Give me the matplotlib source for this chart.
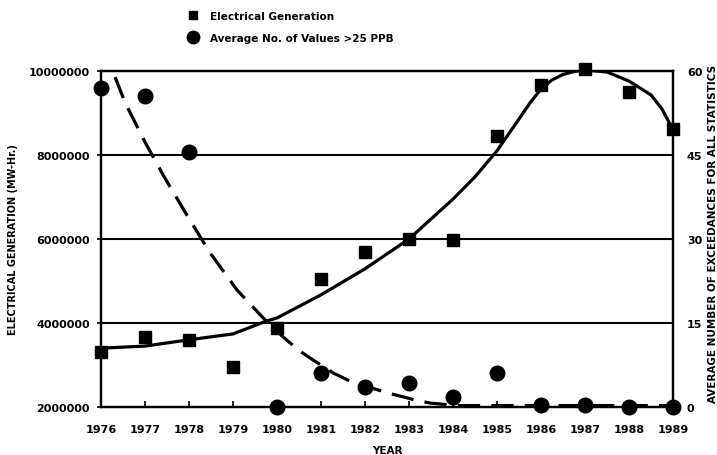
import numpy as np
import matplotlib
matplotlib.use("Agg")
import matplotlib.pyplot as plt
from matplotlib.lines import Line2D

# observed values
years = [1976, 1977, 1978, 1979, 1980, 1981, 1982, 1983, 1984, 1985, 1986, 1987, 1988, 1989]
generation = [3310000, 3670000, 3600000, 2950000, 3880000, 5050000, 5690000,
              6000000, 5980000, 8450000, 9670000, 10050000, 9500000, 8620000]
exceedances = [57, 55.5, 45.5, np.nan, 0, 6.1, 3.6, 4.3, 1.8, 6, 0.4, 0.4, 0, 0]

# hand drawn trend lines
gen_trend_x = [1976, 1977, 1978, 1979, 1979.77, 1980, 1981, 1982, 1983, 1984,
               1984.5, 1985, 1985.5, 1985.75, 1986, 1986.25, 1986.5, 1986.75,
               1987, 1987.5, 1988, 1988.5, 1988.75, 1989]
gen_trend_y = [3400000, 3450000, 3600000, 3740000, 4050000, 4120000, 4670000,
               5290000, 6000000, 6950000, 7480000, 8100000, 8857000, 9238000,
               9571000, 9786000, 9917000, 9988000, 10024000, 9976000, 9760000,
               9430000, 9095000, 8600000]
exc_trend_x = [1976.32, 1976.55, 1977, 1977.45, 1977.98, 1978.48, 1979.09,
               1979.77, 1980.14, 1980.48, 1980.75, 1981.27, 1981.61, 1982.23,
               1982.52, 1983.14, 1983.48, 1984.11, 1985, 1986, 1987, 1988, 1989]
exc_trend_y = [58.9, 54.3, 47.3, 40.9, 33.9, 27.5, 20.9, 15.2, 12.5, 10.2, 8.75,
               6.1, 4.8, 3.2, 2.5, 1.25, 0.7, 0.25, 0.25, 0.25, 0.25, 0.25, 0.25]

left_ticks = [2000000, 4000000, 6000000, 8000000, 10000000]
left_labels = ['2000000', '4000000', '6000000', '8000000', '10000000']
right_ticks = [0, 15, 30, 45, 60]

font = {'family': 'DejaVu Sans', 'weight': 'bold'}

fig = plt.figure(figsize=(7.17, 4.56), dpi=100)
ax = fig.add_axes([0.1409, 0.1053, 0.7977, 0.7368])
ax2 = ax.twinx()

ax.set_xlim(1976, 1989)
ax.set_ylim(2000000, 10000000)
ax2.set_ylim(0, 60)

for y in [4000000, 6000000, 8000000]:
    ax.axhline(y, color='black', lw=1.5, zorder=1)

ax.plot(gen_trend_x, gen_trend_y, color='black', lw=2.3, zorder=3)
ax.plot(years, generation, 's', color='black', ms=8, clip_on=False, zorder=4)

dash, = ax2.plot(exc_trend_x, exc_trend_y, color='black', lw=2.3, zorder=3)
dash.set_dashes((7, 3.5))
ax2.plot(years, exceedances, 'o', color='black', ms=10.5, clip_on=False, zorder=4)

for a in (ax, ax2):
    for s in a.spines.values():
        s.set_linewidth(1.6)

ax.set_xticks(years)
ax.set_xticklabels([str(y) for y in years], fontsize=8, **font)
ax.tick_params(axis='x', direction='in', length=4, width=1.2, pad=12)
ax.set_yticks(left_ticks)
ax.set_yticklabels(left_labels, fontsize=8, **font)
ax.tick_params(axis='y', direction='out', length=3, width=1.2, pad=5)
ax2.set_yticks(right_ticks)
ax2.set_yticklabels([str(t) for t in right_ticks], fontsize=8, **font)
ax2.tick_params(axis='y', length=0, pad=10)

fig.text(0.0181, 0.474, 'ELECTRICAL GENERATION (MW-Hr.)', rotation=90,
         ha='center', va='center', fontsize=7, **font)
fig.text(0.994, 0.487, 'AVERAGE NUMBER OF EXCEEDANCES FOR ALL STATISTICS', rotation=90,
         ha='center', va='center', fontsize=7.5, **font)
fig.text(0.54, 0.012, 'YEAR', ha='center', va='center', fontsize=7.5, **font)

handles = [Line2D([], [], marker='s', ls='none', color='black', ms=6),
           Line2D([], [], marker='o', ls='none', color='black', ms=9)]
fig.legend(handles, ['Electrical Generation', 'Average No. of Values >25 PPB'],
           loc='upper left', bbox_to_anchor=(0.248, 0.995), frameon=False,
           handlelength=1.2, handletextpad=1.0, labelspacing=1.15,
           prop={'family': 'DejaVu Sans', 'weight': 'bold', 'size': 7.5})

fig.savefig('out.png', dpi=100)
